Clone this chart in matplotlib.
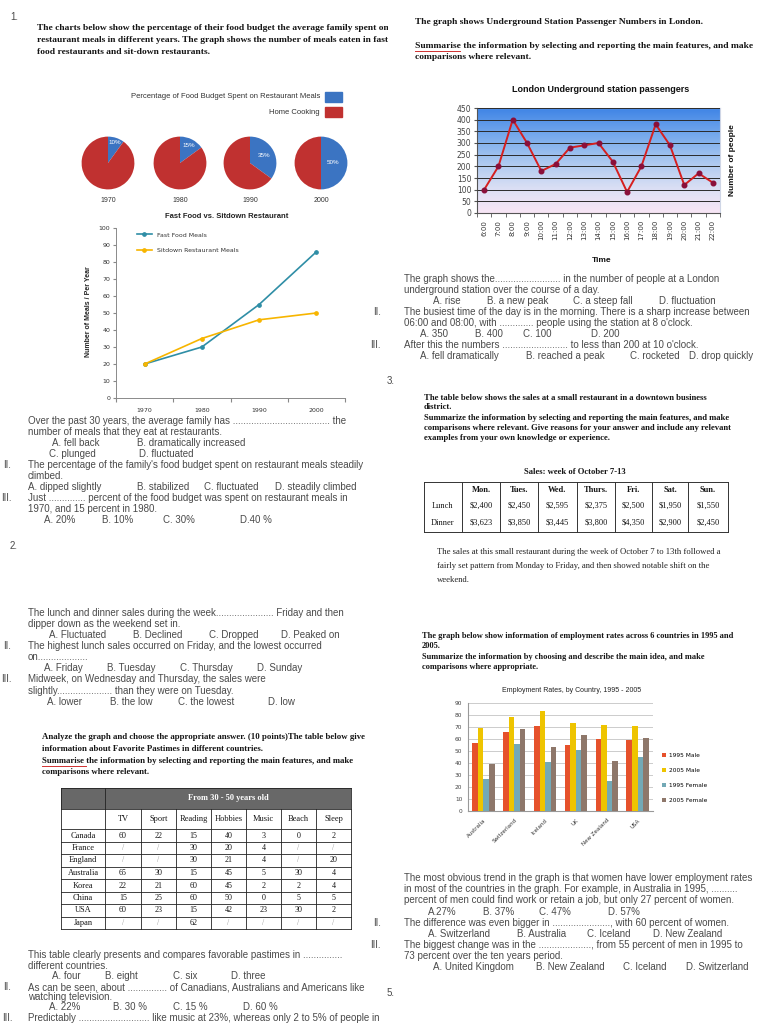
"""Worksheet page: food budget pies, meals line chart, underground passengers,
restaurant sales table, employment bars and pastime table."""

import matplotlib

matplotlib.use("Agg")
import matplotlib.pyplot as plt
import numpy as np
from matplotlib.colors import LinearSegmentedColormap
from matplotlib.lines import Line2D
from matplotlib.patches import Rectangle
from matplotlib.transforms import Bbox, TransformedBbox

# ---- chart data ------------------------------------------------------------
PIE_YEARS = ["1970", "1980", "1990", "2000"]
RESTAURANT_SHARE = [10, 15, 35, 50]

MEAL_YEARS = ["1970", "1980", "1990", "2000"]
FAST_FOOD_MEALS = [20, 30, 55, 86]
SITDOWN_MEALS = [20, 35, 46, 50]

HOURS = ["6:00", "7:00", "8:00", "9:00", "10:00", "11:00", "12:00", "13:00", "14:00",
         "15:00", "16:00", "17:00", "18:00", "19:00", "20:00", "21:00", "22:00"]
PASSENGERS = [100, 200, 400, 300, 180, 210, 280, 290, 300, 220, 90, 200, 380, 290, 120, 170, 130]

SALES_DAYS = ["Mon.", "Tues.", "Wed.", "Thurs.", "Fri.", "Sat.", "Sun."]
LUNCH_SALES = ["$2,400", "$2,450", "$2,595", "$2,375", "$2,500", "$1,950", "$1,550"]
DINNER_SALES = ["$3,623", "$3,850", "$3,445", "$3,800", "$4,350", "$2,900", "$2,450"]

COUNTRIES = ["Australia", "Switzerland", "Iceland", "UK", "New Zealand", "USA"]
MALE_1995 = [57, 66, 71, 55, 60, 59]
MALE_2005 = [69, 78, 83, 73, 72, 71]
FEMALE_1995 = [27, 56, 41, 51, 25, 45]
FEMALE_2005 = [39, 68, 53, 63, 42, 61]

PASTIMES = ["TV", "Sport", "Reading", "Hobbies", "Music", "Beach", "Sleep"]
PASTIME_COUNTRIES = ["Canada", "France", "England", "Australia", "Korea", "China", "USA", "Japan"]
PASTIME_VALUES = [
    ["60", "22", "15", "40", "3", "0", "2"],
    ["/", "/", "30", "20", "4", "/", "/"],
    ["/", "/", "30", "21", "4", "/", "20"],
    ["65", "30", "15", "45", "5", "30", "4"],
    ["22", "21", "60", "45", "2", "2", "4"],
    ["15", "25", "60", "50", "0", "5", "5"],
    ["60", "23", "15", "42", "23", "30", "2"],
    ["/", "/", "62", "/", "/", "/", "/"],
]

# ---- page setup ------------------------------------------------------------
W, H = 768, 1024
SANS = ["Liberation Sans", "DejaVu Sans"]
SERIF = ["Liberation Serif", "DejaVu Serif"]
GREY = "#4a4a4a"
INK = "#151515"

fig = plt.figure(figsize=(W / 100, H / 100), dpi=100)
fig.patch.set_facecolor("white")


def box(x0, y0, x1, y1):
    return [x0 / W, 1 - y1 / H, (x1 - x0) / W, (y1 - y0) / H]


def put(x, y, s, size=7.0, color=GREY, family=SANS, weight="normal", ha="left", **kw):
    return fig.text(x / W, 1 - y / H, s, fontsize=size, color=color, family=family,
                    fontweight=weight, ha=ha, va="center", **kw)


def bold(x, y, s, size=6.8, **kw):
    return put(x, y, s, size=size, color=INK, family=SERIF, weight="bold", **kw)


def squiggle(x0, x1, y):
    fig.add_artist(Line2D([x0 / W, x1 / W], [1 - y / H, 1 - y / H], color="#d03030", lw=0.7))


# ---- section 1: pies + meals line chart --------------------------------------
put(10, 17, "1.")
left_clip = TransformedBbox(Bbox([[0, 0], [388 / W, 1]]), fig.transFigure)
for y, s in [(28, "The charts below show the percentage of their food budget the average family spent on"),
             (40, "restaurant meals in different years. The graph shows the number of meals eaten in fast"),
             (52, "food restaurants and sit-down restaurants.")]:
    t = bold(37, y, s)
    t.set_clip_box(left_clip)
    t.set_clip_on(True)

BLUE, RED = "#3b74c2", "#c03130"
put(320, 97, "Percentage of Food Budget Spent on Restaurant Meals", size=5.5, color="#333333", ha="right")
put(320, 112, "Home Cooking", size=5.5, color="#333333", ha="right")
for y0, c in [(92, BLUE), (107, RED)]:
    fig.add_artist(Rectangle((325 / W, 1 - (y0 + 10) / H), 17 / W, 10 / H, color=c,
                             transform=fig.transFigure))

pie_centers = [108, 180, 250, 321]
label_dist = [0.8, 0.74, 0.6, 0.45]
for cx, year, share, dist in zip(pie_centers, PIE_YEARS, RESTAURANT_SHARE, label_dist):
    ax = fig.add_axes(box(cx - 33, 130, cx + 33, 196))
    wedges, _ = ax.pie([share, 100 - share], colors=[BLUE, RED], startangle=90,
                       counterclock=False, radius=1.0)
    w = wedges[0]
    mid = np.deg2rad((w.theta1 + w.theta2) / 2)
    ax.text(dist * np.cos(mid), dist * np.sin(mid), f"{share}%", color="white",
            fontsize=4.5, ha="center", va="center", family=SANS)
    ax.set_aspect("equal")
    put(cx, 201, year, size=5, color="#333333", ha="center")

put(227, 216, "Fast Food vs. Sitdown Restaurant", size=5.5, color="#222222", ha="center",
    weight="bold")
ax = fig.add_axes(box(116, 228, 345, 398))
xs = np.arange(len(MEAL_YEARS)) + 0.5
ax.plot(xs, FAST_FOOD_MEALS, color="#2f8ea6", lw=1.2, marker="o", ms=2.4, label="Fast Food Meals")
ax.plot(xs, SITDOWN_MEALS, color="#f7b500", lw=1.2, marker="o", ms=2.4,
        label="Sitdown Restaurant Meals")
ax.set_xlim(0, len(MEAL_YEARS))
ax.set_ylim(0, 100)
ax.set_yticks(range(0, 101, 10))
ax.set_xticks(range(len(MEAL_YEARS) + 1))
ax.set_xticklabels([])
ax.set_xticks(xs, minor=True)
ax.set_xticklabels(MEAL_YEARS, minor=True)
ax.tick_params(axis="x", which="minor", length=0, pad=7, labelsize=4.5, labelcolor="#333333")
ax.tick_params(axis="x", which="major", length=3, color="#888888")
ax.tick_params(axis="y", length=2, labelsize=4.5, labelcolor="#333333", color="#888888", pad=2)
for side in ("top", "right"):
    ax.spines[side].set_visible(False)
for side in ("left", "bottom"):
    ax.spines[side].set_color("#8a8a8a")
    ax.spines[side].set_linewidth(0.7)
leg = ax.legend(loc="upper left", bbox_to_anchor=(0.08, 0.99), frameon=False, fontsize=4.5,
                handlelength=2.4, labelspacing=1.6, borderaxespad=0)
for txt in leg.get_texts():
    txt.set_color("#333333")
put(88, 312, "Number of Meals / Per Year", size=5, color="#222222", weight="bold",
    ha="center", rotation=90)

q1 = [
    (28, 421, "Over the past 30 years, the average family has ..................................... the"),
    (28, 432, "number of meals that they eat at restaurants."),
    (52, 443, "A. fell back"), (137, 443, "B. dramatically increased"),
    (49, 454, "C. plunged"), (139, 454, "D. fluctuated"),
    (3, 465, "II."), (28, 465, "The percentage of the family's food budget spent on restaurant meals steadily"),
    (28, 476, "climbed."),
    (28, 487, "A. dipped slightly"), (137, 487, "B. stabilized"), (204, 487, "C. fluctuated"),
    (275, 487, "D. steadily climbed"),
    (1, 498, "III."), (28, 498, "Just .............. percent of the food budget was spent on restaurant meals in"),
    (28, 509, "1970, and 15 percent in 1980."),
    (44, 520, "A. 20%"), (102, 520, "B. 10%"), (163, 520, "C. 30%"), (240, 520, "D.40 %"),
    (10, 546, "2."),
    (28, 613, "The lunch and dinner sales during the week...................... Friday and then"),
    (28, 624, "dipper down as the weekend set in."),
    (49, 635, "A. Fluctuated"), (133, 635, "B. Declined"), (209, 635, "C. Dropped"), (281, 635, "D. Peaked on"),
    (3, 646, "II."), (28, 646, "The highest lunch sales occurred on Friday, and the lowest occurred"),
    (28, 657, "on..................."),
    (44, 668, "A. Friday"), (107, 668, "B. Tuesday"), (180, 668, "C. Thursday"), (257, 668, "D. Sunday"),
    (1, 679, "III."), (28, 679, "Midweek, on Wednesday and Thursday, the sales were"),
    (28, 691, "slightly..................... than they were on Tuesday."),
    (47, 702, "A. lower"), (110, 702, "B. the low"), (178, 702, "C. the lowest"), (268, 702, "D. low"),
    (28, 955, "This table clearly presents and compares favorable pastimes in ..............."),
    (28, 966, "different countries."),
    (52, 976, "A. four"), (105, 976, "B. eight"), (173, 976, "C. six"), (231, 976, "D. three"),
    (3, 987, "II."), (28, 987, "As can be seen, about ............... of Canadians, Australians and Americans like"),
    (28, 997, "watching television."),
    (49, 1007, "A. 22%"), (113, 1007, "B. 30 %"), (173, 1007, "C. 15 %"), (243, 1007, "D. 60 %"),
    (2, 1018, "III."),
    (28, 1018, "Predictably ........................... like music at 23%, whereas only 2 to 5% of people in"),
]
for x, y, s in q1:
    put(x, y, s)

# ---- section 4 (left bottom): pastime table ---------------------------------
bold(42, 737, "Analyze the graph and choose the appropriate answer. (10 points)The table below give", size=6.3)
bold(42, 749, "information about Favorite Pastimes in different countries.", size=6.3)
bold(42, 761, "Summarise the information by selecting and reporting the main features, and make", size=6.3)
bold(42, 772, "comparisons where relevant.", size=6.3)
squiggle(42, 86, 766)

cols = [61, 105, 141, 176, 211, 246, 281, 316, 351]
rows = [788, 809, 829, 842, 854, 867, 879, 892, 904, 917, 929]
tab = fig.add_axes(box(cols[0], rows[0], cols[-1], rows[-1]))
tab.set_xlim(cols[0], cols[-1])
tab.set_ylim(rows[-1], rows[0])
tab.axis("off")
tab.add_patch(Rectangle((cols[0], rows[0]), cols[-1] - cols[0], rows[1] - rows[0],
                        color="#686868", lw=0))
tab.text((cols[1] + cols[-1]) / 2, (rows[0] + rows[1]) / 2, "From 30 - 50 years old",
         color="white", fontsize=6, fontweight="bold", family=SERIF, ha="center", va="center")
for i, name in enumerate(PASTIMES):
    tab.text((cols[i + 1] + cols[i + 2]) / 2, (rows[1] + rows[2]) / 2, name, fontsize=6,
             family=SERIF, color=INK, ha="center", va="center")
for r, (country, vals) in enumerate(zip(PASTIME_COUNTRIES, PASTIME_VALUES)):
    yc = (rows[r + 2] + rows[r + 3]) / 2
    tab.text((cols[0] + cols[1]) / 2, yc, country, fontsize=6, family=SERIF, color=INK,
             ha="center", va="center")
    for i, v in enumerate(vals):
        tab.text((cols[i + 1] + cols[i + 2]) / 2, yc, v, fontsize=5.8, family=SERIF,
                 color="#999999" if v == "/" else INK, ha="center", va="center")
for y in rows[1:]:
    tab.plot([cols[0], cols[-1]], [y, y], color="#222222", lw=0.6, clip_on=False)
tab.plot([cols[0], cols[-1]], [rows[0], rows[0]], color="#222222", lw=0.6, clip_on=False)
for i, x in enumerate(cols):
    y0 = rows[0] if i in (0, 1, len(cols) - 1) else rows[1]
    tab.plot([x, x], [y0, rows[-1]], color="#222222", lw=0.6, clip_on=False)

# ---- section 1 (right): underground passengers -------------------------------
bold(415, 22, "The graph shows Underground Station Passenger Numbers in London.")
bold(415, 46, "Summarise the information by selecting and reporting the main features, and make")
bold(415, 57, "comparisons where relevant.")
squiggle(415, 460, 51)

put(601, 89, "London Underground station passengers", size=6.5, color="#111111", ha="center",
    weight="bold")
ax = fig.add_axes(box(477, 108, 720, 213))
grad = LinearSegmentedColormap.from_list(
    "tube", ["#f8e6f6", "#d8def4", "#a9c7f0", "#74a8ec", "#3f84e6"])
n = len(HOURS)
ax.imshow(np.linspace(0, 1, 256).reshape(-1, 1), extent=[-0.5, n - 0.5, 0, 450],
          aspect="auto", cmap=grad, origin="lower", zorder=0)
ax.set_xlim(-0.5, n - 0.5)
ax.set_ylim(0, 450)
ax.set_yticks(range(0, 451, 50))
ax.yaxis.grid(True, color="#2a2a2a", lw=0.7)
ax.set_axisbelow(False)
ax.plot(range(n), PASSENGERS, color="#d61f1f", lw=1.4, zorder=3)
ax.plot(range(n), PASSENGERS, "o", color="#8a0f3a", ms=3.3, zorder=4)
ax.set_xticks(range(n))
ax.set_xticklabels(HOURS, rotation=90)
ax.set_xticks(np.arange(n + 1) - 0.5, minor=True)
ax.tick_params(axis="x", which="major", length=0, labelsize=5, labelcolor="#333333", pad=5)
ax.tick_params(axis="x", which="minor", length=3, color="#555555")
ax.tick_params(axis="y", length=2, labelsize=5.5, labelcolor="#444444", color="#555555", pad=2)
for side in ("top", "right"):
    ax.spines[side].set_color("#cfd6e6")
ax.spines["left"].set_color("#555555")
ax.spines["bottom"].set_color("#555555")
for tl in ax.yaxis.get_gridlines():
    tl.set_zorder(2)
put(733, 160, "Number of people", size=6, color="#111111", weight="bold", ha="center",
    rotation=90)
put(602, 261, "Time", size=6, color="#111111", weight="bold", ha="center")

q_right = [
    (404, 279, "The graph shows the......................... in the number of people at a London"),
    (404, 290, "underground station over the course of a day."),
    (433, 301, "A. rise"), (487, 301, "B. a new peak"), (573, 301, "C. a steep fall"),
    (659, 301, "D. fluctuation"),
    (373, 312, "II."),
    (404, 312, "The busiest time of the day is in the morning. There is a sharp increase between"),
    (404, 323, "06:00 and 08:00, with ............. people using the station at 8 o'clock."),
    (420, 334, "A. 350"), (475, 334, "B. 400"), (523, 334, "C. 100"), (591, 334, "D. 200"),
    (370, 345, "III."),
    (404, 345, "After this the numbers ......................... to less than 200 at 10 o'clock."),
    (420, 356, "A. fell dramatically"), (526, 356, "B. reached a peak"), (630, 356, "C. rocketed"),
    (689, 356, "D. drop quickly"),
    (387, 381, "3."),
    (404, 878, "The most obvious trend in the graph is that women have lower employment rates"),
    (404, 889, "in most of the countries in the graph. For example, in Australia in 1995, .........."),
    (404, 900, "percent of men could find work or retain a job, but only 27 percent of women."),
    (428, 912, "A.27%"), (483, 912, "B. 37%"), (539, 912, "C. 47%"), (608, 912, "D. 57%"),
    (373, 923, "II."),
    (404, 923, "The difference was even bigger in ......................, with 60 percent of women."),
    (428, 934, "A. Switzerland"), (517, 934, "B. Australia"), (587, 934, "C. Iceland"),
    (653, 934, "D. New Zealand"),
    (370, 945, "III."),
    (404, 945, "The biggest change was in the ...................., from 55 percent of men in 1995 to"),
    (404, 956, "73 percent over the ten years period."),
    (433, 967, "A. United Kingdom"), (536, 967, "B. New Zealand"), (623, 967, "C. Iceland"),
    (686, 967, "D. Switzerland"),
    (387, 993, "5."),
]
for x, y, s in q_right:
    put(x, y, s)

# ---- section 3: sales table --------------------------------------------------
for y, s in [(398, "The table below shows the sales at a small restaurant in a downtown business"),
             (407, "district."),
             (418, "Summarize the information by selecting and reporting the main features, and make"),
             (428, "comparisons where relevant. Give reasons for your answer and include any relevant"),
             (438, "examples from your own knowledge or experience.")]:
    bold(424, y, s, size=6.2)
bold(575, 472, "Sales: week of October 7-13", size=6.2, ha="center")

scols = [424, 462, 500, 538, 577, 615, 652, 688, 728]
srows = [482, 497, 514, 532]
st = fig.add_axes(box(scols[0], srows[0], scols[-1], srows[-1]))
st.set_xlim(scols[0], scols[-1])
st.set_ylim(srows[-1], srows[0])
st.axis("off")
for i, day in enumerate(SALES_DAYS):
    xc = (scols[i + 1] + scols[i + 2]) / 2
    st.text(xc, (srows[0] + srows[1]) / 2, day, fontsize=6, family=SERIF, fontweight="bold",
            color=INK, ha="center", va="center")
    st.text(xc, (srows[1] + srows[2]) / 2, LUNCH_SALES[i], fontsize=6, family=SERIF,
            color=INK, ha="center", va="center")
    st.text(xc, (srows[2] + srows[3]) / 2, DINNER_SALES[i], fontsize=6, family=SERIF,
            color=INK, ha="center", va="center")
for lab, r in [("Lunch", 1), ("Dinner", 2)]:
    st.text((scols[0] + scols[1]) / 2, (srows[r] + srows[r + 1]) / 2, lab, fontsize=6,
            family=SERIF, color=INK, ha="center", va="center")
for x in scols:
    st.plot([x, x], [srows[0], srows[-1]], color="#333333", lw=0.7, clip_on=False)
for y in (srows[0], srows[-1]):
    st.plot([scols[0], scols[-1]], [y, y], color="#333333", lw=0.7, clip_on=False)

for y, s in [(552, "The sales at this small restaurant during the week of October 7 to 13th followed a"),
             (566, "fairly set pattern from Monday to Friday, and then showed notable shift on the"),
             (580, "weekend.")]:
    put(437, y, s, size=6.2, color="#222222", family=SERIF)

# ---- section 4 (right): employment bars --------------------------------------
for y, s in [(636, "The graph below show information of employment rates across 6 countries in 1995 and"),
             (646, "2005."),
             (657, "Summarize the information by choosing and describe the main idea, and make"),
             (667, "comparisons where appropriate.")]:
    bold(422, y, s, size=6)

put(572, 691, "Employment Rates, by Country, 1995 - 2005", size=5, color="#222222", ha="center")
ax = fig.add_axes(box(468, 703, 653, 811))
gx = np.arange(len(COUNTRIES))
bw = 0.18
series = [("1995 Male", MALE_1995, "#e6512b"), ("2005 Male", MALE_2005, "#eec400"),
          ("1995 Female", FEMALE_1995, "#73a9b6"), ("2005 Female", FEMALE_2005, "#8e776a")]
handles = []
for k, (name, vals, c) in enumerate(series):
    handles.append(ax.bar(gx + (k - 1.5) * bw, vals, bw, color=c, label=name, zorder=3))
ax.set_xlim(-0.5, len(COUNTRIES) - 0.5)
ax.set_ylim(0, 90)
ax.set_yticks(range(0, 91, 10))
ax.yaxis.grid(True, color="#c4c4c4", lw=0.6, zorder=0)
ax.set_xticks(gx)
ax.set_xticklabels(COUNTRIES, rotation=45, ha="right", rotation_mode="anchor")
ax.tick_params(axis="x", length=0, labelsize=4, labelcolor="#333333", pad=5)
ax.tick_params(axis="y", length=0, labelsize=4.2, labelcolor="#444444", pad=4)
for side in ("top", "right"):
    ax.spines[side].set_visible(False)
ax.spines["left"].set_color("#999999")
ax.spines["bottom"].set_color("#999999")
fig.legend(handles=handles, loc="center left", bbox_to_anchor=(660 / W, 1 - 778 / H),
           frameon=False, fontsize=4.2, handlelength=0.7, handleheight=0.7,
           labelspacing=1.75, handletextpad=0.5, borderaxespad=0)

fig.savefig("out.png", dpi=100)
